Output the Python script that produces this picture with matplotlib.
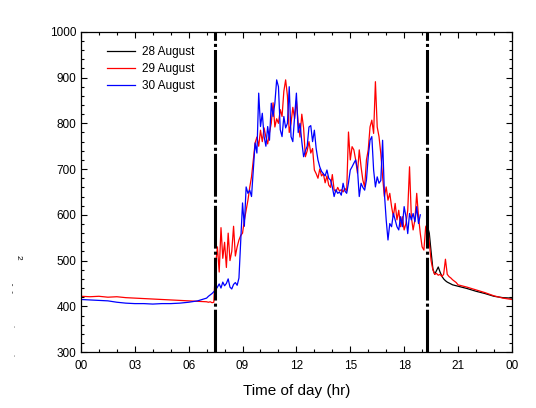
import numpy as np
import matplotlib
matplotlib.use("Agg")
import matplotlib.pyplot as plt
from matplotlib.ticker import MultipleLocator

plt.rcParams['font.family'] = ['Liberation Sans', 'DejaVu Sans']

# --- data (CO2-like readings vs time of day) ---
# night part, every 0.5 hr from 00:00
red_night = [422, 421, 422, 420, 421, 419, 418, 417, 416, 415, 414, 413, 412, 411]
blue_night = [415, 414, 413, 412, 409, 407, 406, 406, 405, 406, 406, 407, 409, 412]

# day part, every 0.1 hr from 07:00 (one row per hour)
red_day = [
    410, 409, 410, 408, 409, 490, 530, 475, 572, 505,   # 07
    540, 485, 560, 500, 520, 575, 510, 530, 545, 555,   # 08
    560, 588, 610, 632, 660, 683, 720, 757, 770, 750,   # 09
    785, 760, 790, 770, 755, 780, 800, 845, 792, 810,   # 10
    800, 830, 815, 870, 895, 860, 780, 800, 835, 810,   # 11
    850, 800, 770, 820, 790, 727, 740, 760, 735, 745,   # 12
    698, 690, 680, 700, 685, 690, 670, 685, 665, 660,   # 13
    688, 655, 650, 660, 652, 655, 650, 658, 652, 781,   # 14
    720, 749, 742, 720, 691, 742, 705, 676, 661, 720,   # 15
    742, 792, 807, 778, 891, 792, 771, 734, 683, 640,   # 16
    661, 632, 647, 618, 596, 625, 589, 610, 574, 596,   # 17
    567, 581, 610, 705, 596, 567, 589, 647, 596, 559,   # 18
    530, 523, 574, 580, 540, 500, 480, 470, 472, 468,   # 19
    470, 465, 470, 503, 470, 465, 462, 458, 455, 452,   # 20
]
blue_day = [
    418, 422, 425, 428, 432, 436, 442, 449, 440, 453,   # 07
    445, 450, 460, 442, 438, 448, 452, 446, 462, 545,   # 08
    626, 575, 661, 647, 654, 640, 698, 757, 735, 866,   # 09
    793, 822, 771, 750, 793, 763, 844, 815, 844, 895,   # 10
    880, 786, 771, 815, 790, 800, 880, 771, 760, 815,   # 11
    866, 780, 800, 760, 727, 740, 750, 792, 795, 760,   # 12
    785, 745, 720, 705, 695, 690, 685, 698, 680, 676,   # 13
    661, 640, 655, 647, 650, 643, 669, 652, 647, 670,   # 14
    698, 705, 713, 720, 700, 640, 669, 660, 654, 676,   # 15
    727, 763, 771, 698, 661, 683, 669, 675, 763, 647,   # 16
    589, 545, 581, 574, 603, 589, 574, 567, 596, 574,   # 17
    618, 596, 559, 603, 589, 603, 585, 618, 581, 600,   # 18
]

# 28 August only recorded from 19:18, every 0.1 hr
black_eve = [575, 560, 520, 482, 470, 478, 486, 475, 466, 460,
             456, 453, 451, 449, 447, 446, 445]

# late evening, every 0.5 hr from 21:00
red_late = [447, 442, 436, 430, 423, 418, 415]
black_late = [444, 439, 433, 428, 422, 419, 418]

# switch-on / switch-off times (hr)
events = [7.45, 19.27]

x_ticks = [0, 3, 6, 9, 12, 15, 18, 21, 24]
x_labels = ["00", "03", "06", "09", "12", "15", "18", "21", "00"]


def hours(start, step, n):
    return start + step * np.arange(n)


red_t = np.concatenate([hours(0, 0.5, len(red_night)),
                        hours(7.0, 0.1, len(red_day)),
                        hours(21.0, 0.5, len(red_late))])
red_v = np.array(red_night + red_day + red_late)

blue_t = np.concatenate([hours(0, 0.5, len(blue_night)),
                         hours(7.0, 0.1, len(blue_day))])
blue_v = np.array(blue_night + blue_day)

black_t = np.concatenate([hours(19.3, 0.1, len(black_eve)),
                          hours(21.0, 0.5, len(black_late))])
black_v = np.array(black_eve + black_late)

fig = plt.figure(figsize=(5.36, 4.08), dpi=100)
ax = fig.add_axes([0.151, 0.137, 0.804, 0.785])

ax.plot(black_t, black_v, color='black', lw=0.9, label='28 August')
ax.plot(red_t, red_v, color='#ff0000', lw=0.9, label='29 August')
ax.plot(blue_t, blue_v, color='#0000ff', lw=0.9, label='30 August')

for x in events:
    ax.axvline(x, color='black', lw=2.2, linestyle=(0, (14, 1.0, 1.0, 1.0)))

ax.set_xlim(0, 24)
ax.set_ylim(300, 1000)
ax.set_xticks(x_ticks)
ax.set_xticklabels(x_labels)
ax.xaxis.set_minor_locator(MultipleLocator(1))
ax.yaxis.set_major_locator(MultipleLocator(100))
ax.yaxis.set_minor_locator(MultipleLocator(20))
ax.tick_params(which='both', direction='in', top=True, right=True, labelsize=8.5)
ax.tick_params(which='major', length=4, width=0.8)
ax.tick_params(which='minor', length=2.5, width=0.8)
ax.tick_params(axis='x', pad=6)
for s in ax.spines.values():
    s.set_linewidth(0.9)

ax.set_xlabel('Time of day (hr)', fontsize=11, labelpad=8)

ax.legend(loc='upper left', frameon=False, fontsize=8.5, handlelength=2.4,
          handletextpad=0.6, labelspacing=0.45, bbox_to_anchor=(0.035, 0.99))

# remnants of the y-axis title
fig.text(0.034, 0.37, "2", rotation=-90, fontsize=6, ha='center', va='center')
fig.text(0.026, 0.295, "-  -", rotation=90, fontsize=6, ha='center', va='center')
fig.text(0.026, 0.2, ".", rotation=90, fontsize=5, ha='center', va='center')
fig.text(0.026, 0.13, ".", rotation=90, fontsize=5, ha='center', va='center')

fig.savefig("out.png", dpi=100)
